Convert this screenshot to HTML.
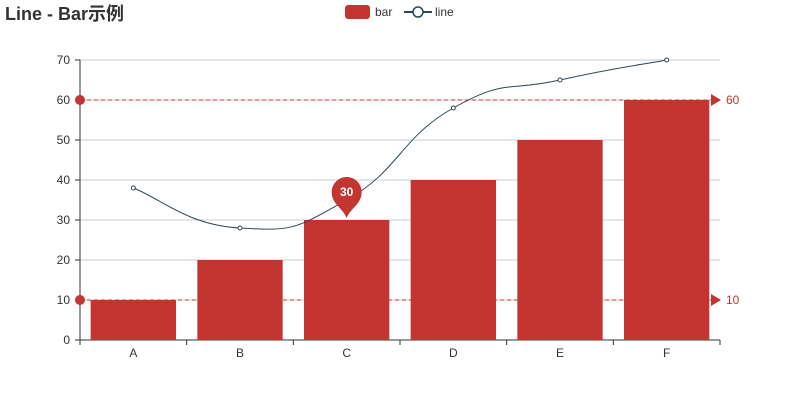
<!DOCTYPE html>
<html><head><meta charset="utf-8"><style>body{margin:0;background:#fff}svg{display:block;font-family:"Liberation Sans","Noto Sans CJK SC",sans-serif}</style></head>
<body>
<svg id="c" width="800" height="400">
<text x="5" y="20" font-size="18" font-weight="bold" fill="#333">Line - Bar示例</text>
<g><rect x="345" y="5" width="25" height="14" rx="3" fill="#c23531"/><text x="375" y="16" font-size="12" fill="#333">bar</text></g>
<g><line x1="404" y1="12" x2="432" y2="12" stroke="#2f4554" stroke-width="2"/><circle cx="418" cy="12" r="5" fill="#fff" stroke="#2f4554" stroke-width="1.5"/><text x="435" y="16" font-size="12" fill="#333">line</text></g>
</svg>
<script>
const categories=["A","B","C","D","E","F"];
const barValues=[10,20,30,40,50,60];
const lineValues=[38,28,35,58,65,70];
const yTicks=[0,10,20,30,40,50,60,70];
const svg=document.getElementById('c');const NS='http://www.w3.org/2000/svg';
const L=80,R=720,T=60,B=340,yMax=70;
const y=v=>B-(B-T)*v/yMax;const bw=(R-L)/categories.length;const x=i=>L+bw*(i+0.5);
function mk(t,a,p){const e=document.createElementNS(NS,t);for(const k in a)e.setAttribute(k,a[k]);(p||svg).appendChild(e);return e;}
yTicks.forEach(v=>{const g=mk('line',{x1:L,x2:R,y1:y(v),y2:y(v),stroke:v?'#ccc':'#333'});


mk('line',{x1:L-5,x2:L,y1:y(v),y2:y(v),stroke:'#333'});
const t=mk('text',{x:L-10,y:y(v)+4,'text-anchor':'end','font-size':12,fill:'#333'});t.textContent=v;

});
mk('line',{x1:L,x2:L,y1:T,y2:B,stroke:'#333'});
categories.forEach((c,i)=>{mk('line',{x1:L+bw*i,x2:L+bw*i,y1:B,y2:B+5,stroke:'#333'});
const t=mk('text',{x:x(i),y:B+17,'text-anchor':'middle','font-size':12,fill:'#333'});t.textContent=c;

});
mk('line',{x1:R,x2:R,y1:B,y2:B+5,stroke:'#333'});
barValues.forEach((v,i)=>{const r=mk('rect',{x:x(i)-bw*0.4,y:y(v),width:bw*0.8,height:B-y(v),fill:'#c23531'});

});
// mark lines
[Math.max(...barValues),Math.min(...barValues)].forEach(v=>{const g=mk('g',{});


mk('line',{x1:L,x2:R-8,y1:y(v),y2:y(v),stroke:'#c23531','stroke-dasharray':'4,3'},g);
mk('circle',{cx:L,cy:y(v),r:5,fill:'#c23531'},g);
mk('path',{d:`M${R-9} ${y(v)-6}L${R+1} ${y(v)}L${R-9} ${y(v)+6}Z`,fill:'#c23531'},g);
const t=mk('text',{x:R+6,y:y(v)+4,'font-size':12,fill:'#c23531'},g);t.textContent=v;});
// smooth line
const pts=lineValues.map((v,i)=>[x(i),y(v)]);
let d=`M${pts[0][0]} ${pts[0][1]}`;const s=0.5;
for(let i=0;i<pts.length-1;i++){const p0=pts[Math.max(i-1,0)],p1=pts[i],p2=pts[i+1],p3=pts[Math.min(i+2,pts.length-1)];
const c1=[p1[0]+(p2[0]-p0[0])*s/2,p1[1]+(p2[1]-p0[1])*s/2],c2=[p2[0]-(p3[0]-p1[0])*s/2,p2[1]-(p3[1]-p1[1])*s/2];
d+=`C${c1[0]} ${c1[1]} ${c2[0]} ${c2[1]} ${p2[0]} ${p2[1]}`;}
const ln=mk('path',{d,fill:'none',stroke:'#2f4554','stroke-width':1});


pts.forEach((p,i)=>{const c=mk('circle',{cx:p[0],cy:p[1],r:2,fill:'#fff',stroke:'#2f4554'});

});
// mark point on C
const mi=2,mx=x(mi),my=y(barValues[mi]);const mp=mk('g',{});


mk('path',{d:`M${mx} ${my-2}C${mx-4} ${my-12} ${mx-15} ${my-16} ${mx-15} ${my-28}A15 15 0 1 1 ${mx+15} ${my-28}C${mx+15} ${my-16} ${mx+4} ${my-12} ${mx} ${my-2}Z`,fill:'#c23531'},mp);
const mt=mk('text',{x:mx,y:my-24,'text-anchor':'middle','font-size':12,'font-weight':'bold',fill:'#fff'},mp);mt.textContent=barValues[mi];
</script>
</body></html>
